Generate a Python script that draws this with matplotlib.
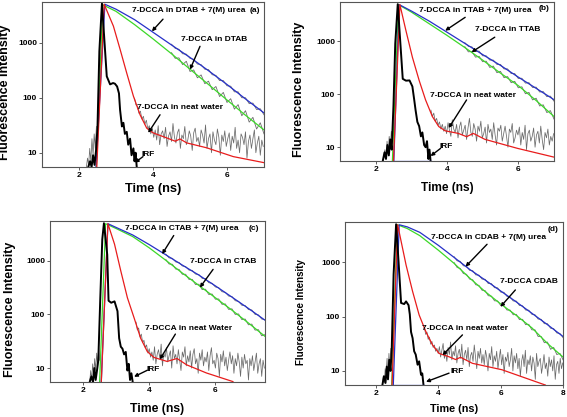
import numpy as np
import matplotlib.pyplot as plt
from matplotlib.ticker import NullLocator

plt.rcParams['font.family'] = ['Liberation Sans', 'DejaVu Sans']

GREY = '#6a6a6a'
BLUE = '#2630c8'
GREEN = '#3cd828'
RED = '#e81c1c'

# ---------------- (a) DTAB ----------------
a_blue_t = [2.46, 2.70, 3.0, 3.5, 4.0, 4.5, 5.0, 5.5, 6.0, 6.5, 7.0]
a_blue = [5.5, 5000, 4070, 2630, 1550, 910, 540, 310, 174, 95, 53]
a_green_t = [2.47, 2.64, 3.0, 3.5, 4.0, 4.5, 5.0, 5.5, 6.0, 6.5, 7.0]
a_green = [5.5, 4900, 3720, 2140, 1175, 630, 330, 174, 91, 48, 26]
a_red_t = [2.48, 2.68, 2.93, 3.11, 3.29, 3.47, 3.65, 3.83, 4.0, 4.37, 4.6, 4.73, 4.91, 5.45, 6.17, 7.0]
a_red = [5.5, 5000, 2000, 760, 280, 107, 49, 28, 23, 18.6, 16.2, 17.8, 15.1, 12.3, 8.5, 6.6]
a_irf_t = [2.25, 2.3, 2.34, 2.38, 2.42, 2.46, 2.5, 2.55, 2.62, 2.75, 2.84, 2.92, 2.97, 3.03, 3.08,
           3.11, 3.16, 3.2, 3.24, 3.29, 3.33, 3.38, 3.42, 3.47, 3.5, 3.53, 3.56]
a_irf = [5.5, 7, 5.5, 9, 6, 11, 30, 700, 5200, 245, 175, 185, 180, 160, 120,
         60, 30, 35, 22, 24, 14, 18, 9, 12, 7, 10, 5.5]
a_pre = [5.5, 8, 6, 12, 7, 18, 9, 22, 12, 30]
a_water_raw = [98, 74, 70, 52, 57, 41, 46, 33, 39, 27, 31, 22, 28,
               19, 26, 17, 31, 14, 22, 25, 18, 29, 13, 20, 24, 16, 34, 19, 15, 23, 27, 12, 21,
               18, 30, 14, 17, 25, 20, 11, 23, 28, 16, 19, 13, 26, 21, 15, 32, 12, 18, 22, 10,
               24, 17, 14, 27, 19, 9, 21, 16, 25, 13, 18, 23, 11, 20, 15, 29, 12, 17, 10, 22,
               19, 14, 24, 8, 16, 21, 12, 18, 26, 10, 15, 20, 9, 17, 13]
a_green_raw = [660, 520, 530, 400, 460, 300, 320, 230, 260, 180, 200, 140, 160, 105, 125, 82,
               96, 62, 75, 47, 58, 36, 44, 27, 35, 22]
a_blue_raw = [940, 790, 760, 630, 620, 520, 500, 410, 400, 330, 325, 262, 255, 205, 205, 165,
              162, 128, 128, 100, 100, 78, 80, 61, 63, 49]

# ---------------- (b) TTAB ----------------
b_blue_t = [2.51, 2.66, 3.0, 3.5, 4.0, 4.5, 5.0, 5.5, 6.0, 6.5, 7.0]
b_blue = [5.5, 4900, 3720, 2400, 1480, 910, 560, 350, 210, 129, 79]
b_green_t = [2.47, 2.64, 3.0, 3.5, 4.0, 4.5, 5.0, 5.5, 6.0, 6.5, 7.0]
b_green = [5.5, 4900, 3550, 2140, 1290, 760, 440, 250, 145, 76, 38]
b_red_t = [2.5, 2.68, 2.85, 3.03, 3.22, 3.40, 3.59, 3.77, 3.95, 4.32, 4.55, 4.74, 5.06, 5.98, 7.0]
b_red = [5.5, 4900, 1580, 500, 182, 78, 38, 24.5, 20.4, 18.2, 15.8, 18.2, 14.1, 9.5, 6.5]
b_irf_t = [2.2, 2.25, 2.29, 2.33, 2.37, 2.41, 2.45, 2.5, 2.55, 2.62, 2.76, 2.85, 2.95, 3.03, 3.08,
           3.12, 3.17, 3.22, 3.27, 3.31, 3.36, 3.40, 3.44, 3.48, 3.51, 3.54]
b_irf = [5.5, 8, 6, 11, 7, 14, 9, 60, 900, 5000, 195, 180, 182, 140, 80,
         50, 30, 25, 16, 19, 11, 10, 13, 6, 9, 5.5]
b_pre = [5.5, 7, 9, 6, 13, 8, 16, 10, 20, 14]
b_water_raw = [50, 38, 44, 31, 35, 26, 30, 22, 27, 20,
               25, 18, 29, 21, 16, 33, 22, 19, 27, 15, 24, 30, 17, 21, 26, 14, 23, 35, 19, 16,
               28, 22, 13, 25, 20, 31, 15, 18, 24, 12, 27, 19, 22, 14, 29, 17, 11, 23, 20, 26,
               13, 18, 25, 16, 10, 22, 19, 28, 12, 15, 21, 17, 24, 11, 19, 14, 26, 9, 18, 21,
               13, 16, 23, 10, 17, 20, 12, 25, 14, 9, 19, 15, 22, 11, 16, 13, 18]
b_green_raw = [790, 630, 640, 500, 520, 410, 420, 320, 340, 255, 270, 205, 215, 165, 175, 132,
               138, 102, 108, 78, 84, 60, 63, 45, 49, 34]
b_blue_raw = [940, 800, 780, 650, 650, 530, 530, 440, 440, 365, 365, 300, 300, 245, 245, 198,
              200, 162, 165, 134, 136, 110, 112, 90, 92, 74]
b_blue_base_t = [2.51, 3.54]
b_blue_base = [5.6, 5.6]

# ---------------- (c) CTAB ----------------
c_blue_t = [2.55, 2.75, 3.0, 3.5, 4.0, 4.5, 5.0, 5.5, 6.0, 6.5, 7.0, 7.5]
c_blue = [5.5, 4900, 4170, 3020, 2000, 1290, 830, 540, 340, 210, 129, 78]
c_green_t = [2.5, 2.68, 3.0, 3.5, 4.0, 4.5, 5.0, 5.5, 6.0, 6.5, 7.0, 7.5]
c_green = [5.5, 4900, 3980, 2820, 1740, 1020, 590, 347, 204, 120, 69, 39]
c_red_t = [2.55, 2.75, 2.95, 3.14, 3.34, 3.54, 3.74, 3.94, 4.14, 4.54, 4.84, 5.13, 5.73, 6.53]
c_red = [5.5, 4900, 2040, 645, 204, 87, 36, 20.4, 15.8, 13.3, 15.1, 11.5, 8.1, 5.6]
c_irf_t = [2.2, 2.25, 2.3, 2.34, 2.38, 2.42, 2.46, 2.52, 2.58, 2.63, 2.73, 2.77, 2.85, 2.95, 3.04,
           3.09, 3.14, 3.19, 3.24, 3.29, 3.34, 3.38, 3.42, 3.46, 3.5]
c_irf = [5.5, 7, 5.5, 10, 6, 9, 14, 200, 2500, 5000, 1300, 180, 165, 175, 115,
         36, 25, 23, 18, 20, 9, 12, 6, 8, 5.5]
c_pre = [5.5, 9, 6, 12, 7, 15, 9, 19, 11, 24, 14]
c_water_raw = [72, 51, 56, 38, 43, 30, 33, 24, 27, 19,
               23, 16, 20, 14, 25, 12, 18, 22, 15, 28, 11, 19, 16, 24, 13, 17, 21, 10, 26, 15,
               18, 12, 22, 14, 9, 20, 16, 25, 11, 17, 13, 21, 10, 18, 23, 12, 15, 8, 19, 14,
               22, 11, 16, 13, 20, 9, 17, 24, 12, 14, 10, 19, 15, 7, 18, 13, 21, 11, 16, 9,
               14, 20, 12, 17, 8, 15, 11, 19, 13, 7, 16, 10, 18, 12, 14, 6, 15, 11, 17, 9,
               13, 19, 8, 12, 15, 7, 14, 10]
c_green_raw = [1060, 870, 860, 700, 690, 560, 560, 450, 450, 360, 365, 290, 295, 235, 240, 192,
               194, 154, 157, 124, 127, 100, 102, 80, 82, 64, 66, 51, 52, 40, 42]
c_blue_raw = [1330, 1130, 1110, 950, 930, 800, 780, 670, 660, 565, 555, 470, 465, 390, 380, 325,
              315, 265, 258, 220, 216, 180, 175, 148, 146, 123, 121, 100, 98, 82, 80]

# ---------------- (d) CDAB ----------------
d_blue_t = [2.55, 2.74, 3.0, 3.4, 4.0, 4.5, 5.0, 5.5, 6.0, 6.5, 7.0, 7.5, 8.0]
d_blue = [5.5, 4900, 4470, 3550, 2040, 1230, 740, 470, 295, 186, 115, 71, 43]
d_green_t = [2.5, 2.68, 3.0, 3.4, 4.0, 4.5, 5.0, 5.5, 6.0, 6.5, 7.0, 7.5, 8.0]
d_green = [5.5, 4900, 4170, 3090, 1660, 955, 513, 288, 170, 105, 62, 32, 18]
d_red_t = [2.51, 2.69, 2.96, 3.17, 3.38, 3.6, 3.81, 4.02, 4.34, 4.55, 4.71, 5.09, 6.04, 7.43]
d_red = [5.5, 4900, 890, 290, 107, 52, 30, 21, 18.2, 16.2, 17.8, 13.8, 10.5, 5.5]
d_irf_t = [2.2, 2.25, 2.3, 2.34, 2.38, 2.42, 2.46, 2.5, 2.56, 2.64, 2.72, 2.8, 2.9, 2.96, 3.04,
           3.08, 3.12, 3.17, 3.22, 3.27, 3.33, 3.38, 3.44, 3.48, 3.52]
d_irf = [5.5, 8, 6, 12, 7, 16, 10, 25, 600, 5000, 1000, 178, 170, 190, 162,
         110, 52, 40, 23, 20, 13, 15, 8.5, 9, 5.5]
d_pre = [5.5, 8, 6, 11, 9, 17, 8, 21, 12, 26, 15]
d_water_raw = [62, 47, 52, 38, 42, 31, 35, 27, 30, 23, 26, 21,
               28, 18, 24, 32, 17, 22, 15, 27, 20, 34, 16, 23, 19, 29, 14, 21, 25, 17, 31, 13,
               20, 24, 16, 27, 12, 19, 22, 15, 30, 18, 11, 23, 17, 26, 14, 20, 13, 24, 18, 10,
               21, 16, 28, 12, 19, 15, 23, 11, 17, 25, 13, 20, 9, 18, 15, 22, 12, 16, 26, 10,
               19, 14, 21, 11, 17, 8, 15, 20, 12, 24, 9, 16, 13, 19, 10, 18, 14, 7, 21, 12,
               15, 17, 9, 13, 20, 11, 14, 8, 18, 12, 16, 10, 19, 7, 13, 15, 9, 17, 11, 14]
d_green_raw = [990, 800, 770, 620, 600, 490, 475, 385, 375, 305, 300, 242, 238, 195, 194, 160,
               160, 132, 132, 108, 110, 88, 89, 71, 72, 57, 57, 43, 43, 33, 34, 25, 27, 20, 21, 16]
d_blue_raw = [1270, 1060, 1040, 860, 850, 710, 700, 585, 580, 490, 485, 405, 405, 340, 338, 282,
              280, 235, 230, 194, 193, 160, 158, 132, 131, 110, 108, 90, 89, 74, 74, 61, 60, 50, 49, 41]
d_blue_base_t = [2.55, 3.54]
d_blue_base = [5.6, 5.6]


def draw(ax, pre, water, water_t0, green_raw, blue_raw, green_t, green, blue_t, blue,
         red_t, red, irf_t, irf, xmax, xticks):
    ax.plot(2.2 + 0.03 * np.arange(len(pre)), pre, color=GREY, lw=0.55)
    ax.plot(water_t0 + 0.04 * np.arange(len(water)), water, color=GREY, lw=0.55)
    tail = 4.5 + 0.1 * np.arange(len(green_raw))
    ax.plot(tail, green_raw, color=GREY, lw=0.6)
    ax.plot(tail, blue_raw, color=GREY, lw=0.6)
    ax.plot(green_t, green, color=GREEN, lw=0.9)
    ax.plot(blue_t, blue, color=BLUE, lw=0.9)
    ax.plot(red_t, red, color=RED, lw=0.9)
    ax.plot(irf_t, irf, color='black', lw=1.4)
    ax.set_yscale('log')
    ax.set_ylim(5.5, 5500)
    ax.set_xlim(1, xmax)
    ax.set_yticks([10, 100, 1000], ['10', '100', '1000'], fontweight='bold', fontsize=6)
    ax.set_xticks(xticks, [str(x) for x in xticks], fontweight='bold', fontsize=6)
    ax.yaxis.set_minor_locator(NullLocator())
    ax.tick_params(length=2, width=0.6, color='#444444', pad=1.5)
    for s in ax.spines.values():
        s.set_color('#555555')
        s.set_linewidth(0.8)


def note(ax, txt, xy, start, end):
    ax.text(xy[0], xy[1], txt, ha='center', va='center', fontsize=6, fontweight='bold')
    ax.annotate('', xy=end, xytext=start,
                arrowprops=dict(arrowstyle='-|>', color='black', lw=1.0, mutation_scale=5,
                                shrinkA=0, shrinkB=0))


fig = plt.figure(figsize=(5.67, 4.17), dpi=100)
ax_a = fig.add_axes([0.0741, 0.5995, 0.3915, 0.3957])
ax_b = fig.add_axes([0.5996, 0.614, 0.3774, 0.3813])
ax_c = fig.add_axes([0.0882, 0.0839, 0.3792, 0.3861])
ax_d = fig.add_axes([0.6085, 0.0767, 0.3845, 0.3909])

draw(ax_a, a_pre, a_water_raw, 3.5, a_green_raw, a_blue_raw, a_green_t, a_green,
     a_blue_t, a_blue, a_red_t, a_red, a_irf_t, a_irf, 7, [2, 4, 6])
draw(ax_b, b_pre, b_water_raw, 3.55, b_green_raw, b_blue_raw, b_green_t, b_green,
     b_blue_t, b_blue, b_red_t, b_red, b_irf_t, b_irf, 7, [2, 4, 6])
draw(ax_c, c_pre, c_water_raw, 3.6, c_green_raw, c_blue_raw, c_green_t, c_green,
     c_blue_t, c_blue, c_red_t, c_red, c_irf_t, c_irf, 7.5, [2, 4, 6])
draw(ax_d, d_pre, d_water_raw, 3.55, d_green_raw, d_blue_raw, d_green_t, d_green,
     d_blue_t, d_blue, d_red_t, d_red, d_irf_t, d_irf, 8, [2, 4, 6, 8])
ax_b.plot(b_blue_base_t, b_blue_base, color=BLUE, lw=0.9)
ax_d.plot(d_blue_base_t, d_blue_base, color=BLUE, lw=0.9)

# axis labels
for ax, lx, ly, fs, xfs in [(ax_a, -0.14, -0.097, 9, 9.2), (ax_b, -0.164, -0.13, 9, 8.6),
                            (ax_c, -0.158, -0.13, 9, 8.8), (ax_d, -0.179, -0.117, 7, 7.8)]:
    ax.set_ylabel('Fluorescence Intensity', fontsize=fs, fontweight='bold')
    ax.set_xlabel('Time (ns)', fontsize=xfs, fontweight='bold')
    ax.yaxis.set_label_coords(lx, 0.45)
    ax.xaxis.set_label_coords(0.5, ly)

# (a)
note(ax_a, '7-DCCA in DTAB + 7(M) urea', (4.97, 3800), (4.27, 2680), (3.97, 1610))
ax_a.text(6.74, 3800, '(a)', ha='center', va='center', fontsize=6, fontweight='bold')
note(ax_a, '7-DCCA in DTAB', (5.65, 1150), (5.27, 860), (5.0, 325))
note(ax_a, '7-DCCA in neat water', (4.73, 66), (4.19, 49), (3.87, 23))
note(ax_a, 'IRF', (3.86, 9.2), (3.73, 8.5), (3.51, 6.6))

# (b)
note(ax_b, '7-DCCA in TTAB + 7(M) urea', (4.80, 3760), (4.51, 2820), (3.95, 1580))
ax_b.text(6.72, 4070, '(b)', ha='center', va='center', fontsize=6, fontweight='bold')
note(ax_b, '7-DCCA in TTAB', (5.70, 1630), (5.34, 1190), (4.69, 620))
note(ax_b, '7-DCCA in neat water', (4.74, 95), (4.55, 78), (4.05, 23))
note(ax_b, 'IRF', (3.97, 10.2), (3.82, 9.5), (3.54, 6.8))

# (c)
note(ax_c, '7-DCCA in CTAB + 7(M) urea', (4.99, 4070), (4.74, 2950), (4.39, 1330))
ax_c.text(7.17, 4070, '(c)', ha='center', va='center', fontsize=6, fontweight='bold')
note(ax_c, '7-DCCA in CTAB', (6.25, 980), (5.93, 690), (5.53, 316))
note(ax_c, '7-DCCA in neat Water', (5.2, 55), (4.79, 43), (4.32, 14.5))
note(ax_c, 'IRF', (4.11, 9.3), (3.94, 9.1), (3.54, 6.9))

# (d)
note(ax_d, '7-DCCA in CDAB + 7(M) urea', (5.62, 2880), (5.56, 2140), (4.87, 830))
ax_d.text(7.69, 4070, '(d)', ha='center', va='center', fontsize=6, fontweight='bold')
note(ax_d, '7-DCCA CDAB', (6.89, 440), (6.47, 309), (5.99, 151))
note(ax_d, '7-DCCA in neat water', (4.84, 61), (4.77, 46), (4.13, 19.5))
note(ax_d, 'IRF', (4.61, 9.8), (4.34, 9.1), (3.6, 6.3))

fig.savefig('out.png', dpi=100)
